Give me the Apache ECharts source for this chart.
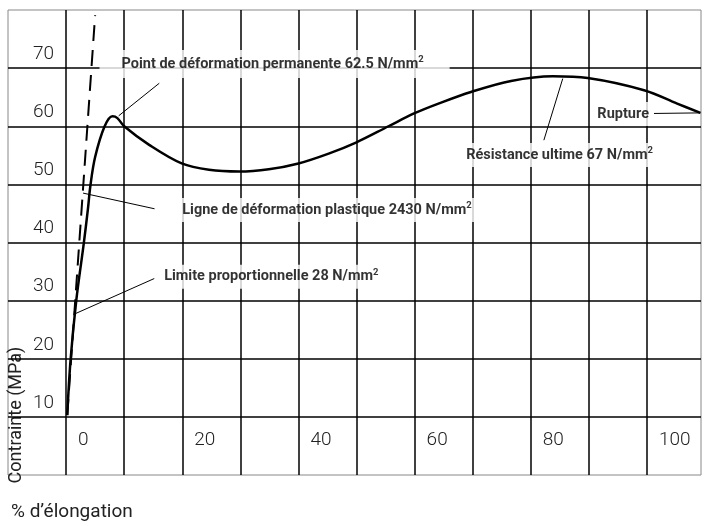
<!DOCTYPE html>
<html>
<head>
<meta charset="utf-8">
<script src="https://cdn.jsdelivr.net/npm/echarts@6/dist/echarts.min.js"></script>
<style>
  html, body { margin: 0; padding: 0; background: #fff; }
  #chart { width: 704px; height: 526px; }
</style>
</head>
<body>
<div id="chart"></div>
<script>
// courbe contrainte / élongation
var curveX = [0.2, 0.77, 1.75, 3.05, 3.74, 4.2, 5.0, 6.6, 7.98, 8.83, 10.0, 14.3, 19.9, 24.6, 29.8, 34.9, 40.0, 45.2, 49.9, 55.5, 59.9, 64.1, 69.7, 76.6, 83.8, 89.8, 99.5, 105.2, 109.2];
var curveY = [10.3, 19.8, 30.0, 39.9, 45.6, 49.9, 54.7, 59.9, 61.7, 61.4, 60.0, 56.8, 53.6, 52.5, 52.2, 52.6, 53.6, 55.3, 57.2, 60.0, 62.2, 63.9, 65.9, 67.8, 68.6, 68.3, 66.2, 63.9, 62.3];

// droite de déformation plastique (tirets)
var dashX = [0.2, 5.0];
var dashY = [10.3, 79.1];

// graduations
var xLabelValues = [0, 20, 40, 60, 80, 100];
var yLabelValues = [10, 20, 30, 40, 50, 60, 70];

// annotations
var noteTexts = [
  'Point de déformation permanente 62.5 N/mm{sup|2}',
  'Ligne de déformation plastique 2430 N/mm{sup|2}',
  'Limite proportionnelle 28 N/mm{sup|2}',
  'Résistance ultime 67 N/mm{sup|2}',
  'Rupture'
];
var noteX = [5.75, 17.75, 15.5, 67.5, 90.6];
var noteY = [70.7, 45.6, 34.1, 55.05, 62.1];
var notePadding = [[5, 26, 5, 22], [3, 6, 3, 13], [3, 8, 3, 8], [3, 6, 3, 8], [3, 5, 3, 5]];

// traits de rappel
var leaderX1 = [16.04, 2.92, 1.46, 82.25, 101.2];
var leaderY1 = [67.4, 48.5, 27.7, 57.6, 62.2];
var leaderX2 = [9.06, 15.23, 15.18, 85.5, 109.2];
var leaderY2 = [61.8, 45.8, 33.8, 68.2, 62.3];

var chart = echarts.init(document.getElementById('chart'), null, { renderer: 'canvas' });

var curveData = curveX.map(function(x, i) { return [x, curveY[i]]; });
var dashData = dashX.map(function(x, i) { return [x, dashY[i]]; });
var noteData = noteX.map(function(x, i) { return { value: [x, noteY[i]], label: { padding: notePadding[i] } }; });
var leaderData = leaderX1.map(function(x, i) {
  return [{ coord: [x, leaderY1[i]] }, { coord: [leaderX2[i], leaderY2[i]] }];
});

chart.setOption({
  animation: false,
  title: {
    text: '% d’élongation',
    left: 6, top: 498,
    textStyle: { fontFamily: 'Roboto', fontWeight: 'normal', fontSize: 19, color: '#222' }
  },
  graphic: [{
    type: 'text',
    x: 16, y: 415,
    rotation: Math.PI / 2,
    style: {
      text: 'Contrainte (MPa)',
      font: 'normal 18px Roboto',
      fill: '#222',
      align: 'center',
      verticalAlign: 'middle'
    }
  }],
  grid: {
    left: 8, right: 1, top: 10, bottom: 51,
    show: true, borderColor: '#888', borderWidth: 1
  },
  xAxis: {
    type: 'value',
    min: -10, max: 109.3, interval: 10,
    axisLine: { show: false },
    axisTick: { show: false },
    splitLine: { show: true, showMinLine: false, showMaxLine: false, lineStyle: { color: '#000', width: 1.5 } },
    axisLabel: {
      inside: true, margin: 35,
      align: 'left', verticalAlign: 'middle',
      padding: [0, 0, 0, 12],
      fontFamily: 'Roboto', fontWeight: 300, fontSize: 19, color: '#222',
      showMinLabel: true, showMaxLabel: true,
      formatter: function(v) { return xLabelValues.indexOf(Math.round(v * 10) / 10) >= 0 ? String(v) : ''; }
    }
  },
  yAxis: {
    type: 'value',
    min: 0, max: 80, interval: 10,
    axisLine: { show: false },
    axisTick: { show: false },
    splitLine: { show: true, showMinLine: false, showMaxLine: false, lineStyle: { color: '#000', width: 1.5 } },
    axisLabel: {
      inside: true, margin: 46,
      align: 'right', verticalAlign: 'bottom',
      lineHeight: 28,
      fontFamily: 'Roboto', fontWeight: 300, fontSize: 19, color: '#222',
      formatter: function(v) { return yLabelValues.indexOf(v) >= 0 ? String(v) : ''; }
    }
  },
  series: [
    {
      type: 'line',
      data: dashData,
      symbol: 'none',
      lineStyle: { color: '#000', width: 2, type: [16, 9] },
      z: 3
    },
    {
      type: 'line',
      data: curveData,
      symbol: 'none',
      smooth: 0.35,
      lineStyle: { color: '#000', width: 2.5 },
      markLine: {
        silent: true,
        symbol: 'none',
        label: { show: false },
        lineStyle: { color: '#000', width: 1, type: 'solid' },
        data: leaderData
      },
      z: 4
    },
    {
      type: 'scatter',
      data: noteData,
      symbolSize: 0,
      z: 5,
      label: {
        show: true,
        position: 'right',
        distance: 0,
        formatter: function(p) { return noteTexts[p.dataIndex]; },
        fontFamily: 'Roboto',
        fontWeight: 'bold',
        fontSize: 14.5,
        lineHeight: 18,
        color: '#000',
        backgroundColor: '#fff',
        rich: {
          sup: { fontFamily: 'Roboto', fontWeight: 'bold', fontSize: 9.5, lineHeight: 18, verticalAlign: 'top', color: '#000' }
        }
      }
    }
  ]
});
</script>
</body>
</html>
